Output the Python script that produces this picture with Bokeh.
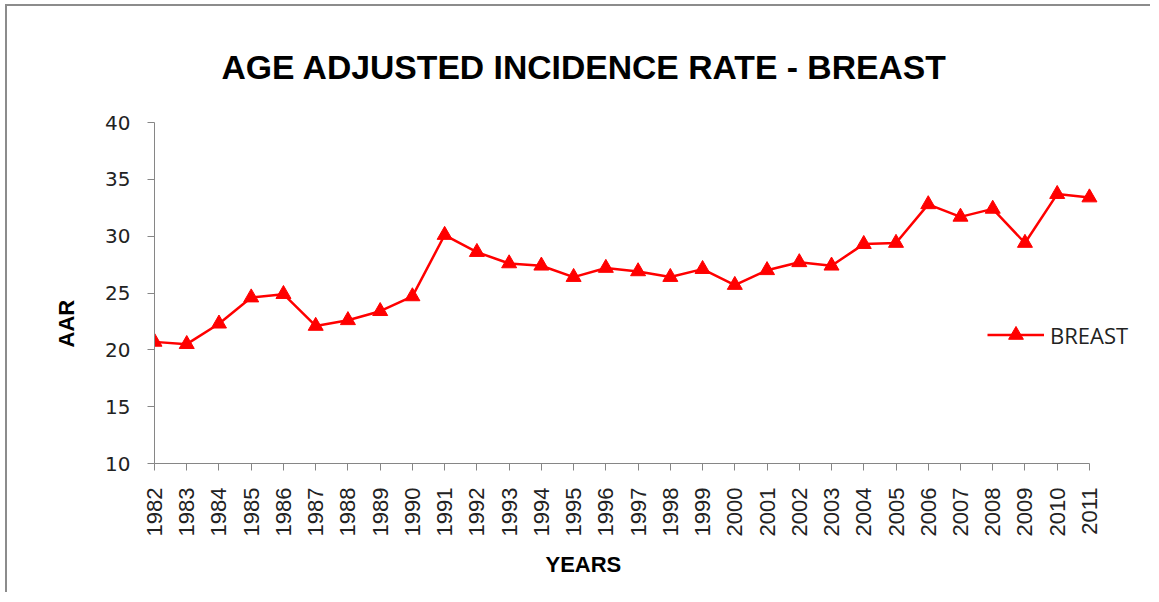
import math
from bokeh.plotting import figure
from bokeh.models import Range1d, FixedTicker, Legend, LegendItem, Title
from bokeh.embed import file_html
from bokeh.resources import INLINE

years = list(range(1982, 2012))
aar = [20.7, 20.5, 22.3, 24.6, 24.9, 22.1, 22.6, 23.4, 24.7, 30.1,
       28.6, 27.6, 27.4, 26.4, 27.2, 26.9, 26.4, 27.1, 25.7, 27.0,
       27.7, 27.4, 29.3, 29.4, 32.8, 31.7, 32.4, 29.4, 33.7, 33.4]
y_ticks = [10, 15, 20, 25, 30, 35, 40]
series_name = "BREAST"

# extra room on the right of the last year so the legend is not clipped
x_end = years[-1] + 1.77

p = figure(width=1145, height=588, output_backend="svg", toolbar_location=None,
           x_range=Range1d(years[0], x_end), y_range=Range1d(10, 40),
           min_border_left=147, min_border_right=6, min_border_top=116,
           min_border_bottom=131)
p.title.text = "AGE ADJUSTED INCIDENCE RATE - BREAST"
p.title.align = "left"
p.title.offset = 67
p.title.text_font = "Liberation Sans"
p.title.text_font_size = "33.7px"
p.title.text_font_style = "bold"
p.title.text_color = "#000000"
p.title.standoff = 73

p.outline_line_color = None
p.xgrid.grid_line_color = None
p.ygrid.grid_line_color = None
p.background_fill_color = "white"
p.border_fill_color = "white"
p.styles = {"border-left": "2px solid #8c8c8c", "border-top": "2px solid #8c8c8c",
            "margin-left": "5px", "margin-top": "4px"}

ax = p.xaxis[0]
ax.ticker = FixedTicker(ticks=years)
ax.bounds = (years[0], years[-1])
ax.major_label_orientation = math.pi / 2
ax.major_label_text_font = "Liberation Sans"
ax.major_label_text_font_size = "22px"
ax.major_label_text_color = "#222222"
ax.major_label_standoff = 17
ax.axis_line_color = "#868686"
ax.major_tick_line_color = "#868686"
ax.major_tick_out = 7
ax.major_tick_in = 0
ax.minor_tick_line_color = None

ay = p.yaxis[0]
ay.ticker = FixedTicker(ticks=y_ticks)
ay.major_label_text_font = "DejaVu Sans"
ay.major_label_text_font_size = "20px"
ay.major_label_text_color = "#222222"
ay.major_label_standoff = 17
ay.axis_line_color = "#868686"
ay.major_tick_line_color = "#868686"
ay.major_tick_out = 7
ay.major_tick_in = 0
ay.minor_tick_line_color = None

xlabel = Title(text="YEARS", align="left", offset=391, standoff=20,
               text_font="Liberation Sans", text_font_size="22px",
               text_font_style="bold", text_color="#000000")
p.add_layout(xlabel, "below")
ylabel = Title(text="AAR", align="left", offset=116, standoff=48,
               text_font="Liberation Sans", text_font_size="22px",
               text_font_style="bold", text_color="#000000")
p.add_layout(ylabel, "left")

ln = p.line(years, aar, line_color="#ff0000", line_width=2.5)
sc = p.scatter(years, aar, marker="triangle", size=15, fill_color="#ff0000",
               line_color="#ff0000")

legend = Legend(items=[LegendItem(label=series_name, renderers=[ln, sc])],
                location=(833, 110), glyph_width=57, glyph_height=37,
                label_text_font="Open Sans", label_text_font_size="22px",
                label_text_color="#222222", label_standoff=6,
                padding=0, margin=0, border_line_color=None,
                background_fill_alpha=0)
p.add_layout(legend, "center")

open("out.html", "w").write(file_html(p, INLINE))
